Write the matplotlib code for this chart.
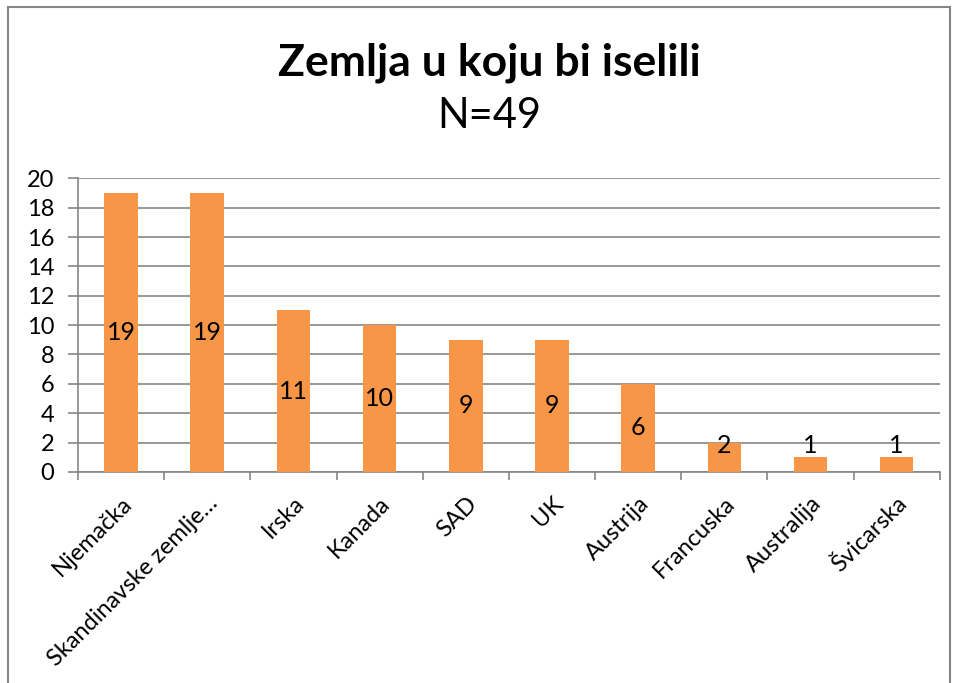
import matplotlib
matplotlib.use("Agg")
import matplotlib.pyplot as plt
from matplotlib.patches import Rectangle
import numpy as np

countries = ["Njemačka", "Skandinavske zemlje…", "Irska", "Kanada", "SAD",
             "UK", "Austrija", "Francuska", "Australija", "Švicarska"]
counts = [19, 19, 11, 10, 9, 9, 6, 2, 1, 1]

BAR_COLOR = "#F79646"
GRID_COLOR = "#868686"

plt.rcParams["font.family"] = ["Lato", "DejaVu Sans"]

fig = plt.figure(figsize=(9.56, 6.83), dpi=100)
ax = fig.add_axes([0.0816, 0.309, 0.9014, 0.430])

x = np.arange(len(countries))
ax.bar(x, counts, width=0.39, color=BAR_COLOR, zorder=3)

for xi, v in zip(x, counts):
    y = v / 2 if v >= 4 else 1.8
    ax.text(xi, y, str(v), ha="center", va="center", fontsize=18, zorder=4)

ax.set_xlim(-0.5, len(countries) - 0.5)
ax.set_ylim(0, 20)
ax.set_yticks(range(0, 21, 2))
ax.tick_params(axis="y", labelsize=17, length=7, color=GRID_COLOR, width=1.2, pad=10)
ax.yaxis.grid(True, color=GRID_COLOR, linewidth=1.2, zorder=0)

ax.set_xticks(x)
ax.set_xticklabels(countries, rotation=45, ha="right", rotation_mode="anchor", fontsize=17)
ax.tick_params(axis="x", which="major", length=0, pad=15)
ax.set_xticks(np.arange(-0.5, len(countries), 1.0), minor=True)
ax.tick_params(axis="x", which="minor", length=6, color=GRID_COLOR, width=1.2)

for side in ("top", "right"):
    ax.spines[side].set_visible(False)
for side in ("left", "bottom"):
    ax.spines[side].set_color(GRID_COLOR)
    ax.spines[side].set_linewidth(1.2)

fig.text(0.512, 0.908, "Zemlja u koju bi iselili", ha="center", va="center",
         fontsize=32, fontweight="bold")
fig.text(0.512, 0.830, "N=49", ha="center", va="center", fontsize=30)

fig.patches.append(Rectangle((8 / 956, -0.01), 942 / 956, 1 - 7 / 683 + 0.01,
                             transform=fig.transFigure, fill=False,
                             edgecolor=GRID_COLOR, linewidth=1.5))

fig.savefig("out.png")
